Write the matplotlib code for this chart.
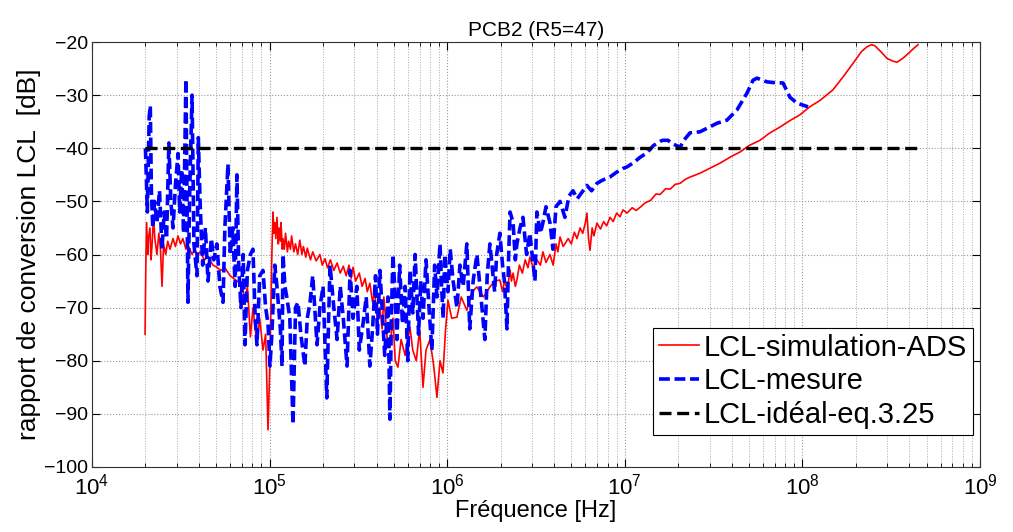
import numpy as np
import matplotlib
matplotlib.use("Agg")
import matplotlib.pyplot as plt
from matplotlib.ticker import LogLocator

plt.rcParams['font.family'] = ['Liberation Sans', 'DejaVu Sans']
plt.rcParams['mathtext.default'] = 'regular'

# LCL-simulation-ADS (red)
f_sim = [1.99e4, 2.01e4, 2.03e4, 2.06e4, 2.08e4, 2.12e4, 2.15e4, 2.18e4, 2.22e4, 2.26e4,
         2.32e4, 2.38e4, 2.43e4, 2.48e4, 2.53e4, 2.60e4, 2.67e4, 2.75e4, 2.86e4, 2.95e4,
         3.05e4, 3.15e4, 3.25e4, 3.38e4, 3.50e4, 3.66e4, 3.80e4, 3.90e4, 4.06e4, 4.30e4,
         4.50e4, 4.80e4, 5.05e4, 5.30e4, 5.60e4, 6.00e4, 6.55e4, 7.00e4, 7.27e4, 7.50e4,
         7.80e4, 8.06e4, 8.49e4, 8.80e4, 9.18e4, 9.50e4, 9.80e4, 1.005e5, 1.03e5, 1.045e5,
         1.06e5, 1.07e5, 1.085e5, 1.10e5, 1.12e5, 1.13e5, 1.15e5, 1.16e5, 1.18e5, 1.19e5,
         1.21e5, 1.23e5, 1.26e5, 1.28e5, 1.31e5, 1.33e5, 1.37e5, 1.40e5, 1.44e5, 1.48e5,
         1.52e5, 1.55e5, 1.60e5, 1.63e5, 1.70e5, 1.75e5, 1.83e5, 1.92e5, 1.98e5, 2.05e5,
         2.12e5, 2.20e5, 2.30e5, 2.40e5, 2.50e5, 2.60e5, 2.70e5, 2.80e5, 2.88e5, 2.95e5,
         3.05e5, 3.20e5, 3.32e5, 3.45e5, 3.55e5, 3.67e5, 3.80e5, 3.90e5, 4.05e5, 4.18e5,
         4.30e5, 4.40e5, 4.60e5, 4.76e5, 4.95e5, 5.10e5, 5.28e5, 5.50e5, 5.80e5, 6.17e5,
         6.40e5, 6.70e5, 7.00e5, 7.31e5, 7.60e5, 8.00e5, 8.40e5, 8.76e5, 9.11e5, 9.47e5,
         9.80e5, 1.01e6, 1.06e6, 1.135e6, 1.20e6, 1.29e6, 1.38e6, 1.47e6, 1.60e6, 1.74e6,
         1.85e6, 1.98e6, 2.05e6, 2.10e6, 2.18e6, 2.26e6, 2.30e6, 2.35e6, 2.42e6, 2.47e6,
         2.55e6, 2.65e6, 2.75e6, 2.85e6, 2.92e6, 3.05e6, 3.20e6, 3.35e6, 3.46e6, 3.60e6,
         3.79e6, 3.95e6, 4.10e6, 4.20e6, 4.32e6, 4.50e6, 4.80e6, 5.00e6, 5.20e6, 5.38e6,
         5.60e6, 5.80e6, 6.00e6, 6.12e6, 6.25e6, 6.37e6, 6.55e6, 6.70e6, 6.97e6, 7.30e6,
         7.60e6, 7.90e6, 8.26e6, 8.60e6, 9.00e6, 9.40e6, 9.77e6, 1.03e7, 1.10e7, 1.16e7,
         1.22e7, 1.30e7, 1.40e7, 1.50e7, 1.58e7, 1.70e7, 1.80e7, 1.92e7, 2.05e7, 2.18e7,
         2.30e7, 2.65e7, 3.00e7, 3.44e7, 4.00e7, 4.46e7, 5.00e7, 5.77e7, 6.50e7, 7.48e7,
         8.50e7, 9.69e7, 1.10e8, 1.256e8, 1.486e8, 1.70e8, 1.93e8, 2.15e8, 2.31e8, 2.45e8,
         2.56e8, 2.80e8, 3.00e8, 3.24e8, 3.41e8, 3.70e8, 4.00e8, 4.20e8, 4.48e8]
db_sim = [-75, -62, -54, -60, -57, -55, -61, -58, -53, -57,
          -60, -56, -59, -66, -58, -60, -57.5, -59, -57, -58.5,
          -56.5, -58, -57, -59, -58.5, -60, -59, -60.5, -59.5, -61,
          -60.5, -62, -62.4, -63, -62.5, -64, -65, -65.5, -69, -66,
          -75.5, -70, -77, -72, -78, -75, -93, -80, -60, -52,
          -56, -54, -57, -53, -58, -55, -57.5, -54, -59, -57,
          -59, -56, -59.5, -57.5, -59, -56.5, -59.5, -58, -60, -57.3,
          -60, -58.5, -60.5, -58.8, -61, -59.5, -61.2, -60, -62, -60.8,
          -62.5, -61, -63, -61.6, -63.5, -62.2, -64, -62, -64.5, -62.4,
          -65, -63.5, -66, -64.5, -67, -65.4, -69, -67, -72, -70,
          -74, -68, -76, -77.4, -72, -80, -81.2, -76, -79, -73.7,
          -78, -80, -74, -85, -78, -76, -81, -86.9, -80, -82.3,
          -74, -68.6, -72, -71.8, -68, -70.5, -67, -66.1, -68, -66.1,
          -65, -64.8, -67, -65, -66.5, -62.9, -65, -63.5, -66, -64.8,
          -62, -63.5, -61, -62.5, -60.5, -62.5, -61, -62, -59.5, -61.5,
          -60, -62, -58, -59.5, -56.7, -58.5, -57, -58, -55.8, -57,
          -55, -56, -54, -52.2, -57, -59.2, -55, -56.5, -54.1, -55.2,
          -53.8, -54.6, -53, -53.8, -52.2, -52.9, -51.6, -52.2, -51.2, -51.7,
          -51.1, -50.3, -49.8, -48.6, -48.7, -47.6, -47.7, -46.8, -46.6, -45.9,
          -45.5, -44.7, -43.8, -42.8, -41.5, -40.7, -39.5, -38.5, -37.2, -36,
          -34.8, -33.7, -32.2, -31, -29, -26.5, -24, -21.8, -20.9, -20.5,
          -20.7, -22, -23.1, -23.6, -23.8, -23, -22, -21.3, -20.5]

# LCL-mesure (blue)
f_mes = [2.00e4, 2.05e4, 2.10e4, 2.13e4, 2.16e4, 2.20e4, 2.25e4, 2.32e4, 2.40e4, 2.48e4,
         2.55e4, 2.63e4, 2.71e4, 2.78e4, 2.86e4, 2.95e4, 3.05e4, 3.12e4, 3.20e4, 3.28e4,
         3.38e4, 3.43e4, 3.47e4, 3.55e4, 3.66e4, 3.75e4, 3.90e4, 3.97e4, 4.06e4, 4.20e4,
         4.35e4, 4.50e4, 4.70e4, 4.85e4, 5.05e4, 5.25e4, 5.47e4, 5.60e4, 5.83e4, 6.00e4,
         6.20e4, 6.40e4, 6.55e4, 6.70e4, 6.90e4, 7.10e4, 7.27e4, 7.50e4, 7.80e4, 8.06e4,
         8.30e4, 8.49e4, 8.80e4, 9.18e4, 9.50e4, 9.80e4, 1.005e5, 1.03e5, 1.07e5, 1.10e5,
         1.15e5, 1.175e5, 1.19e5, 1.22e5, 1.25e5, 1.30e5, 1.355e5, 1.40e5, 1.445e5, 1.50e5,
         1.58e5, 1.63e5, 1.69e5, 1.75e5, 1.85e5, 1.92e5, 2.00e5, 2.10e5, 2.15e5, 2.19e5,
         2.30e5, 2.40e5, 2.50e5, 2.60e5, 2.73e5, 2.84e5, 2.95e5, 3.10e5, 3.20e5, 3.36e5,
         3.50e5, 3.67e5, 3.80e5, 3.95e5, 4.05e5, 4.18e5, 4.30e5, 4.45e5, 4.64e5, 4.76e5,
         4.85e5, 4.95e5, 5.10e5, 5.21e5, 5.40e5, 5.60e5, 5.80e5, 6.00e5, 6.17e5, 6.40e5,
         6.60e5, 6.90e5, 7.10e5, 7.31e5, 7.60e5, 7.90e5, 8.20e5, 8.50e5, 8.76e5, 9.11e5,
         9.30e5, 9.50e5, 9.70e5, 1.01e6, 1.04e6, 1.08e6, 1.135e6, 1.18e6, 1.23e6, 1.29e6,
         1.34e6, 1.40e6, 1.47e6, 1.55e6, 1.63e6, 1.68e6, 1.74e6, 1.80e6, 1.85e6, 1.90e6,
         1.98e6, 2.05e6, 2.10e6, 2.17e6, 2.22e6, 2.26e6, 2.35e6, 2.42e6, 2.47e6, 2.57e6,
         2.67e6, 2.80e6, 2.92e6, 3.05e6, 3.12e6, 3.20e6, 3.35e6, 3.46e6, 3.60e6, 3.79e6,
         3.94e6, 4.10e6, 4.32e6, 4.60e6, 4.85e6, 5.11e6, 5.40e6, 5.82e6, 6.12e6, 6.50e6,
         6.97e6, 7.50e6, 8.26e6, 9.00e6, 9.77e6, 1.03e7, 1.11e7, 1.22e7, 1.33e7, 1.45e7,
         1.58e7, 1.64e7, 1.75e7, 1.87e7, 2.05e7, 2.15e7, 2.33e7, 2.65e7, 3.00e7, 3.30e7,
         3.76e7, 4.28e7, 4.88e7, 5.27e7, 5.55e7, 6.32e7, 7.20e7, 7.78e7, 8.51e7, 9.33e7,
         1.076e8]
db_mes = [-40, -52, -34, -32, -48, -55, -50, -54, -48, -59,
          -52, -57, -39, -50, -55, -47, -41, -52, -44, -56,
          -27, -50, -69, -48, -30, -58, -64, -38, -50, -62,
          -55, -65, -57, -61, -58, -66, -69, -55, -43, -60,
          -55, -66, -45, -62, -70, -60, -77, -63, -60, -59,
          -72, -77, -64, -63, -70, -73, -81, -75, -62, -66,
          -74, -81, -60, -66, -68, -72, -92, -70, -69, -75,
          -81, -72, -69, -64, -77, -70, -66, -87, -72, -62,
          -70, -76, -66, -72, -81, -63, -72, -66, -78, -73,
          -68, -81, -74, -64, -75, -63, -70, -79, -68, -91,
          -72, -60, -68, -76, -62, -73, -66, -80, -63, -71,
          -60, -75, -65, -72, -61, -70, -78, -62, -68, -58,
          -66, -72, -60, -67, -59, -65, -70, -62, -66, -58,
          -74, -65, -60, -68, -76, -64, -58, -63, -67, -60,
          -56, -62, -65, -74, -60, -52, -54, -61, -58, -55,
          -53, -60, -56, -62, -65, -52, -56, -54, -51, -54,
          -59, -51, -50, -53, -49, -48, -49.5, -48, -47, -48,
          -46.6, -46, -45.4, -44.5, -43.8, -43.5, -42.8, -41.7, -40.9, -39.5,
          -38.7, -38.5, -38.5, -39.2, -39.8, -38.5, -37.1, -36.9, -36, -35.3,
          -34.7, -32.8, -29.6, -27.2, -26.8, -27.5, -27.7, -27.7, -30.4, -31.5,
          -32.2]

# LCL-idéal-eq.3.25 (black)
f_ideal = [2.0e4, 4.48e8]
db_ideal = [-40, -40]

fig = plt.figure(figsize=(10.13, 5.32), dpi=100)
ax = fig.add_axes([0.0908, 0.1222, 0.8766, 0.7988])

ax.plot(f_sim, db_sim, color='red', lw=1.2, label='LCL-simulation-ADS')
ax.plot(f_mes, db_mes, color='#0000ff', lw=2.6, ls=(0, (3.0, 1.3)), label='LCL-mesure')
ax.plot(f_ideal, db_ideal, color='black', lw=2.4, ls=(0, (3.6, 1.7)), label='LCL-idéal-eq.3.25')

ax.set_xscale('log')
ax.set_xlim(1e4, 1e9)
ax.set_ylim(-100, -20)
ax.set_yticks(np.arange(-100, -19, 10))
ax.xaxis.set_minor_locator(LogLocator(base=10, subs=np.arange(2, 10)))

ax.grid(True, which='major', ls=':', color='#999999', lw=0.8)
ax.grid(True, which='minor', axis='x', ls=':', color='#aaaaaa', lw=0.7)
ax.tick_params(which='both', direction='in', top=True, right=True)
ax.tick_params(axis='y', labelsize=14, pad=3)
ax.tick_params(axis='x', labelsize=16, pad=5)
ax.tick_params(which='major', length=6)
ax.tick_params(which='minor', length=3)
for s in ax.spines.values():
    s.set_color('#333333')

ax.set_title('PCB2 (R5=47)', fontsize=15, pad=4)
ax.set_xlabel('Fréquence [Hz]', fontsize=17, labelpad=0)
ax.set_ylabel('rapport de conversion LCL  [dB]', fontsize=19, labelpad=2)

leg = ax.legend(loc='lower right', bbox_to_anchor=(0.992, 0.075), borderaxespad=0,
                fontsize=21, fancybox=False, framealpha=1, edgecolor='black',
                handlelength=1.4, borderpad=0.2, labelspacing=0.2,
                handletextpad=0.15)
leg.get_frame().set_linewidth(0.8)

fig.savefig('out.png', dpi=100)
